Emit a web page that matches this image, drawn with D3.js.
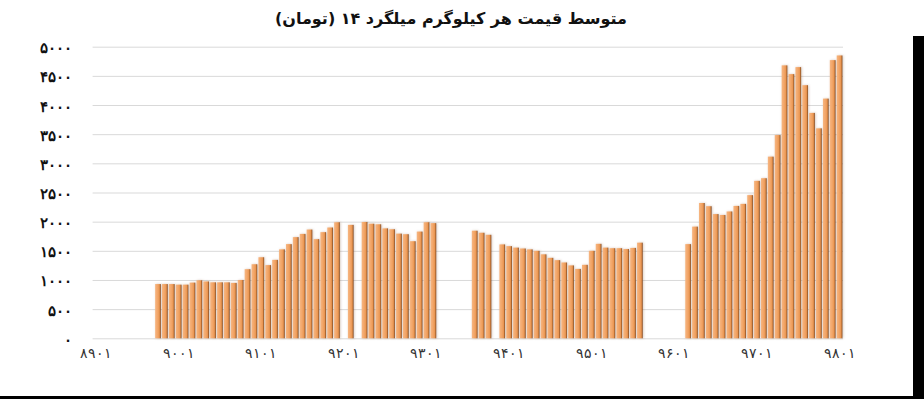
<!DOCTYPE html>
<html>
<head>
<meta charset="utf-8">
<script src="https://cdn.jsdelivr.net/npm/d3@7"></script>
<style>
  body { margin: 0; background: #fff; }
  svg { display: block; font-family: "DejaVu Sans", sans-serif; }
  .grid line { stroke: #d9d9d9; }
  .grid .domain { display: none; }
  .axis .domain { display: none; }
  .y.axis text { font-size: 15px; font-weight: bold; fill: #111; }
  .x.axis text { font-size: 14px; fill: #333; }
</style>
</head>
<body>
<div id="chart"></div>
<script>
// Monthly average price of rebar (toman per kg), 8901 .. 9801
const years = ["89", "90", "91", "92", "93", "94", "95", "96", "97", "98"];
const months = ["01", "02", "03", "04", "05", "06", "07", "08", "09", "10", "11", "12"];

// One row per year, null where no price was reported
const prices89 = [null, null, null, null, null, null, null, null, null, 930, 930, 930];
const prices90 = [920, 920, 955, 995, 975, 960, 960, 960, 950, 1000, 1185, 1270];
const prices91 = [1390, 1255, 1345, 1525, 1615, 1735, 1790, 1865, 1700, 1820, 1900, 1990];
const prices92 = [null, 1945, null, 1995, 1965, 1955, 1885, 1870, 1795, 1785, 1665, 1830];
const prices93 = [1990, 1975, null, null, null, null, null, 1845, 1810, 1775, null, 1610];
const prices94 = [1580, 1555, 1540, 1525, 1500, 1440, 1380, 1340, 1300, 1250, 1190, 1260];
const prices95 = [1500, 1620, 1555, 1545, 1545, 1530, 1550, 1640, null, null, null, null];
const prices96 = [null, null, 1615, 1915, 2320, 2265, 2130, 2115, 2175, 2270, 2305, 2455];
const prices97 = [2700, 2745, 3115, 3485, 4680, 4530, 4650, 4340, 3865, 3600, 4110, 4770];
const prices98 = [4850];

const yTicks = [0, 500, 1000, 1500, 2000, 2500, 3000, 3500, 4000, 4500, 5000];
const title = "متوسط قیمت هر کیلوگرم میلگرد ۱۴ (تومان)";

const WIDTH = 924;
const HEIGHT = 399;
const pad = { left: 92.6, right: 81, top: 46.7, bottom: 60.7 };

const priceRows = [prices89, prices90, prices91, prices92, prices93, prices94, prices95, prices96, prices97, prices98];
const data = [];
years.forEach((yy, r) => {
  priceRows[r].forEach((v, m) => data.push({ x: yy + months[m], y: v }));
});

const fa = (s) => String(s).replace(/\d/g, (d) => "۰۱۲۳۴۵۶۷۸۹"[d]);

const svg = d3.select("#chart").append("svg")
  .attr("width", WIDTH)
  .attr("height", HEIGHT);

const defs = svg.append("defs");
const grad = defs.append("linearGradient")
  .attr("id", "barFill")
  .attr("x1", 0).attr("x2", 1).attr("y1", 0).attr("y2", 0);
grad.selectAll("stop")
  .data([
    ["0%", "#f6b682"], ["45%", "#f2a567"], ["72%", "#ea9753"],
    ["85%", "#bf7439"], ["100%", "#7d4823"],
  ])
  .join("stop")
  .attr("offset", (d) => d[0])
  .attr("stop-color", (d) => d[1]);

const shadow = defs.append("filter").attr("id", "soft")
  .attr("x", "-50%").attr("width", "200%").attr("y", "-5%").attr("height", "110%");
shadow.append("feDropShadow")
  .attr("dx", 0.8).attr("dy", 0).attr("stdDeviation", 0.9)
  .attr("flood-color", "#7a4a25").attr("flood-opacity", 0.3);

const x = d3.scaleBand()
  .domain(data.map((d) => d.x))
  .range([pad.left, WIDTH - pad.right])
  .paddingInner(0.17)
  .paddingOuter(0.085);

const y = d3.scaleLinear()
  .domain([0, 5000])
  .range([HEIGHT - pad.bottom, pad.top]);

// Gridlines
svg.append("g")
  .attr("class", "grid")
  .attr("transform", `translate(${pad.left},0)`)
  .call(d3.axisLeft(y).tickValues(yTicks).tickSize(-(WIDTH - pad.left - pad.right)).tickFormat(""));

// Bars
svg.append("g")
  .attr("filter", "url(#soft)")
  .selectAll("rect")
  .data(data.filter((d) => d.y != null))
  .join("rect")
  .attr("x", (d) => x(d.x))
  .attr("y", (d) => y(d.y))
  .attr("width", x.bandwidth())
  .attr("height", (d) => y(0) - y(d.y))
  .attr("fill", "url(#barFill)");

// Y axis labels
svg.append("g")
  .attr("class", "y axis")
  .attr("transform", `translate(${pad.left},0)`)
  .call(d3.axisLeft(y).tickValues(yTicks).tickSize(0).tickPadding(21).tickFormat(fa))
  .selectAll("text").attr("dy", "0.4em");

// X axis labels, one per year
svg.append("g")
  .attr("class", "x axis")
  .attr("transform", `translate(0,${y(0)})`)
  .call(d3.axisBottom(x)
    .tickValues(data.filter((d) => d.x.endsWith("01")).map((d) => d.x))
    .tickSize(0).tickPadding(10).tickFormat(fa));

svg.append("text")
  .attr("x", 451)
  .attr("y", 24)
  .attr("text-anchor", "middle")
  .attr("direction", "rtl")
  .attr("font-size", 16)
  .attr("font-weight", "bold")
  .attr("fill", "#111")
  .text(title);

// Frame edges
svg.append("rect").attr("x", 913).attr("y", 36).attr("width", 11).attr("height", HEIGHT - 36).attr("fill", "#000");
svg.append("rect").attr("x", 0).attr("y", 396).attr("width", WIDTH).attr("height", 3).attr("fill", "#000");
</script>
</body>
</html>
